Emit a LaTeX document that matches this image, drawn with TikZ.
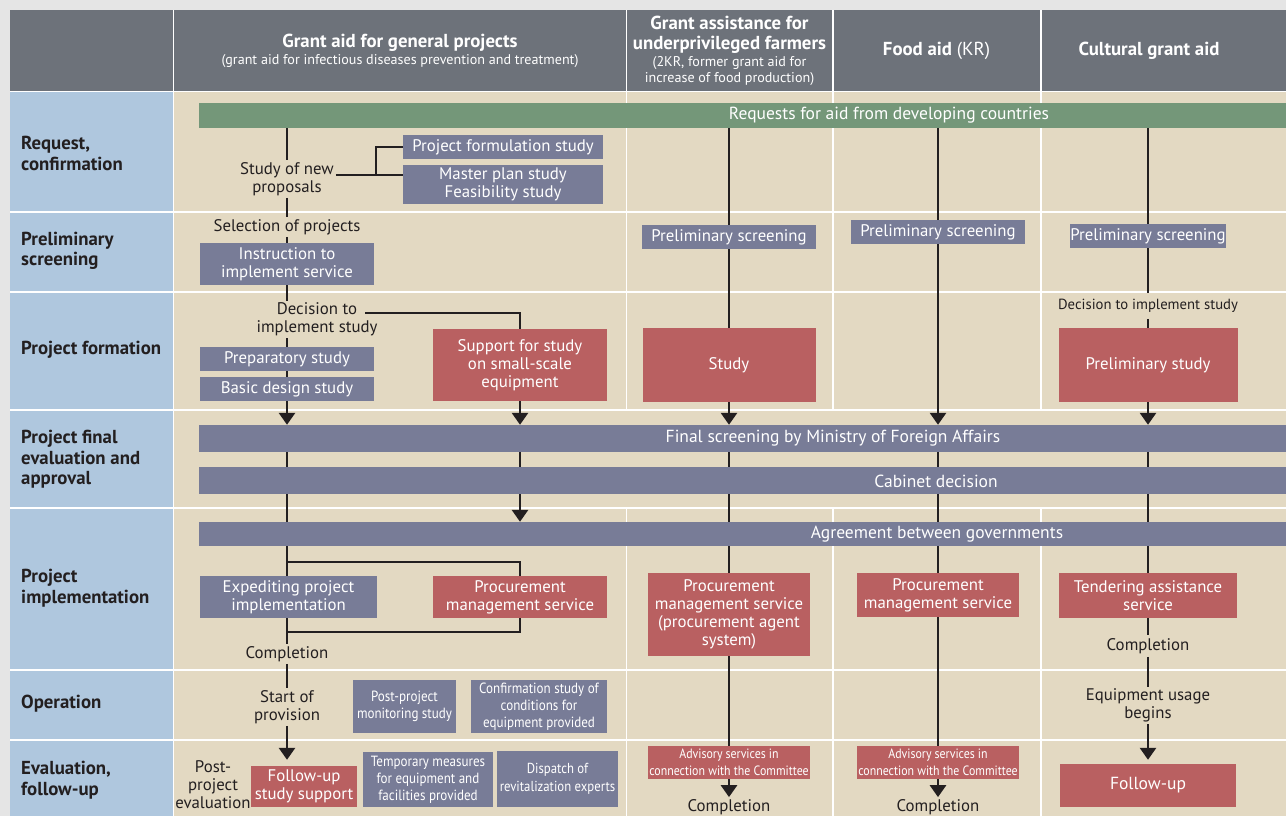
\documentclass[tikz,border=0pt]{standalone}
\usepackage{fontspec}
\setmainfont{PT Sans}
\newfontfamily\narrowfont[FakeStretch=0.88]{PT Sans}
\usepackage{tikz}
\usetikzlibrary{arrows.meta,positioning}
\definecolor{pagegray}{RGB}{229,229,229}
\definecolor{headgray}{RGB}{109,114,122}
\definecolor{stageblue}{RGB}{175,199,222}
\definecolor{cellbeige}{RGB}{227,217,194}
\definecolor{leafgreen}{RGB}{116,151,121}
\definecolor{slate}{RGB}{120,124,151}
\definecolor{brick}{RGB}{185,96,97}
\definecolor{ink}{RGB}{35,31,32}
\newcommand{\boxfont}{\fontsize{16.8}{18}\selectfont}
\newcommand{\smallfont}{\narrowfont\fontsize{14.8}{17}\selectfont}
\newcommand{\advfont}{\narrowfont\fontsize{13.5}{17}\selectfont}
\newcommand{\barfont}{\fontsize{17.5}{18}\selectfont}
\newcommand{\headfont}{\bfseries\fontsize{18.8}{20}\selectfont}
\newcommand{\subfont}{\fontsize{14.1}{16}\selectfont}
\newcommand{\stagefont}{\bfseries\fontsize{18.8}{20.5}\selectfont}
\pgfdeclarelayer{back}
\pgfdeclarelayer{mid}
\pgfsetlayers{back,mid,main}

\begin{document}
\begin{tikzpicture}[x=1pt,y=-1pt,
  slatebox/.style={fill=slate,text=white,inner sep=0pt,align=center,font=\boxfont},
  redbox/.style={fill=brick,text=white,inner sep=0pt,align=center,font=\boxfont},
  boxsize/.style 2 args={minimum width=#1,minimum height=#2},
  bar/.style={fill=#1,inner sep=0pt,minimum width=1087,minimum height=27},
  bartext/.style={text=white,font=\barfont,inner sep=0pt},
  note/.style={text=ink,font=\boxfont,align=center,inner sep=2pt},
  stage/.style={anchor=west,text=ink,font=\stagefont,align=left,inner sep=0pt},
  headtitle/.style={text=white,font=\headfont,align=center,inner sep=0pt},
  headsub/.style={text=white,font=\subfont,align=center,inner sep=0pt},
  flow/.style={draw=ink,line width=2.8pt},
  flowarrow/.style={flow,-{Triangle[width=16pt,length=12pt]}},
  gridrule/.style={draw=white,line width=1.5pt}]

  \useasboundingbox (0,0) rectangle (1286,816);

  % Table background
  \begin{pgfonlayer}{back}
    \fill[pagegray] (0,0) rectangle (1286,816);
    \fill[headgray] (10,10) rectangle (1286,91);
    \fill[stageblue] (10,92) rectangle (173,816);
    \fill[cellbeige] (174,92) rectangle (1286,816);
    \foreach \y in {91.5,212,292,410,508,670,740}
      \draw[gridrule] (10,\y) -- (1286,\y);
    \foreach \x in {626.5,833,1041}{
      \draw[gridrule] (\x,10) -- (\x,410);
      \draw[gridrule] (\x,508) -- (\x,816);}
    \draw[gridrule] (173.5,10) -- (173.5,816);
  \end{pgfonlayer}

  % Column heads
  \node[headtitle] (head1) at (400,43) {Grant aid for general projects};
  \node[headsub] (head1sub) at (400,61)
    {(grant aid for infectious diseases prevention and treatment)};
  \node[headtitle] (head2) at (729.5,35) {Grant assistance for\\underprivileged farmers};
  \node[headsub] (head2sub) at (729.5,71)
    {(2KR, former grant aid for\\increase of food production)};
  \node[headtitle] (head3) at (936.5,51) {Food aid {\mdseries (KR)}};
  \node[headtitle] (head4) at (1149,51) {Cultural grant aid};

  % Stage labels on left
  \node[stage] (stage1) at (21,153.5) {Request,\\confirmation};
  \node[stage] (stage2) at (21,251) {Preliminary\\screening};
  \node[stage] (stage3) at (21,350) {Project formation};
  \node[stage] (stage4) at (21,459.5) {Project final\\evaluation and\\approval};
  \node[stage] (stage5) at (21,588) {Project\\implementation};
  \node[stage] (stage6) at (21,704) {Operation};
  \node[stage] (stage7) at (21,780) {Evaluation,\\follow-up};

  % Bars across all schemes
  \node[bar=leafgreen,minimum height=25] (reqbar) at (742.5,115.5) {};
  \node[bartext] at (889,115.5) {Requests for aid from developing countries};
  \node[bar=slate] (finbar) at (742.5,438.5) {};
  \node[bartext] at (833,438.5) {Final screening by Ministry of Foreign Affairs};
  \node[bar=slate] (cabbar) at (742.5,480.5) {};
  \node[bartext] at (936,481) {Cabinet decision};
  \node[bar=slate,minimum height=24] (agrbar) at (742.5,534) {};
  \node[bartext] at (937,534) {Agreement between governments};

  % Grant aid for general projects
  \node[note] (newstudy) at (287,179) {Study of new\\proposals};
  \node[slatebox,boxsize={200}{24}] (formstudy) at (503,147) {Project formulation study};
  \node[slatebox,boxsize={200}{39}] (planstudy) at (503,184.5)
    {Master plan study\\Feasibility study};
  \coordinate (fork) at (376,175);
  \node[note] (select) at (287,227) {Selection of projects};
  \node[slatebox,boxsize={174}{42}] (instruct) at (287,264) {Instruction to\\implement service};
  \node[note] (decide) at (317,319.5) {Decision to\\implement study};
  \coordinate (decideR) at (365,313);
  \node[slatebox,boxsize={174}{24}] (prepstudy) at (287,359) {Preparatory study};
  \node[slatebox,boxsize={174}{24}] (basicstudy) at (287,389) {Basic design study};
  \node[redbox,boxsize={174}{72}] (support) at (520,365)
    {Support for study\\on small-scale\\equipment};
  \coordinate (split) at (287,562);
  \coordinate (merge) at (287,632);
  \node[slatebox,boxsize={177}{42}] (expedite) at (288.5,597)
    {Expediting project\\implementation};
  \node[redbox,boxsize={174}{42}] (procure1) at (520,597)
    {Procurement\\management service};
  \node[note] (done1) at (287,654) {Completion};
  \node[note] (provision) at (287,707) {Start of\\provision};
  \node[slatebox,font=\smallfont,boxsize={103}{53}] (monitor) at (404.5,706.5)
    {Post-project\\monitoring study};
  \node[slatebox,font=\smallfont,boxsize={136}{53}] (confirm) at (539,706.5)
    {Confirmation study of\\conditions for\\equipment provided};
  \node[note,inner sep=0pt] (posteval) at (213,785) {Post-\\project\\evaluation};
  \node[redbox,boxsize={106}{41}] (followstudy) at (304,786.5)
    {Follow-up\\study support};
  \node[slatebox,font=\smallfont,boxsize={130}{55}] (tempfix) at (428,779.5)
    {Temporary measures\\for equipment and\\facilities provided};
  \node[slatebox,font=\narrowfont\fontsize{14.5}{17.5}\selectfont,boxsize={121}{56}] (dispatch)
    at (557.5,779) {Dispatch of\\revitalization experts};

  % Grant assistance for underprivileged farmers
  \node[slatebox,boxsize={174}{24}] (screen2) at (729,237) {Preliminary screening};
  \node[redbox,boxsize={173}{74}] (study2) at (729,365) {Study};
  \node[redbox,boxsize={162}{83}] (procure2) at (729,614.5)
    {Procurement\\management service\\(procurement agent\\system)};
  \node[redbox,font=\advfont,boxsize={162}{33}] (advise2) at (729,762.5)
    {Advisory services in\\connection with the Committee};
  \node[note] (done2) at (729,807) {Completion};

  % Food aid
  \node[slatebox,boxsize={174}{24}] (screen3) at (938,232) {Preliminary screening};
  \node[redbox,boxsize={162}{44}] (procure3) at (938,595)
    {Procurement\\management service};
  \node[redbox,font=\advfont,boxsize={162}{33}] (advise3) at (938,762.5)
    {Advisory services in\\connection with the Committee};
  \node[note] (done3) at (938,807) {Completion};

  % Cultural grant aid
  \node[slatebox,boxsize={156}{24}] (screen4) at (1148,236) {Preliminary screening};
  \node[note,font=\fontsize{14.7}{18}\selectfont,inner sep=6pt] (decide4) at (1148,306)
    {Decision to implement study};
  \node[redbox,boxsize={179}{74}] (prelim4) at (1148,365) {Preliminary study};
  \node[redbox,boxsize={178}{45}] (tender4) at (1148,595.5)
    {Tendering assistance\\service};
  \node[note,inner sep=3pt] (done4) at (1148,646) {Completion};
  \node[note] (usage4) at (1148,705.5) {Equipment usage\\begins};
  \node[redbox,font=\fontsize{17.5}{20}\selectfont,boxsize={176}{43}] (follow4) at (1148,785.5)
    {Follow-up};

  % Flow lines, drawn under the boxes
  \begin{pgfonlayer}{mid}
    \draw[flow] (newstudy |- reqbar.south) -- (newstudy);
    \draw[flow] (newstudy.east |- fork) -- (fork) -- (fork -| planstudy.west);
    \draw[flow] (fork) |- (formstudy.west);
    \draw[flow] (newstudy) -- (select);
    \draw[flow] (select) -- (instruct);
    \draw[flow] (instruct.south) -- (instruct.south |- decide.north);
    \draw[flowarrow] (instruct.south |- decide.south) -- (instruct.south |- finbar.north);
    \draw[flow] (decideR) -| (support.north);
    \draw[flowarrow] (support.south) -- (support.south |- finbar.north);
    \draw[flowarrow] (support.south |- finbar.south) -- (support.south |- agrbar.north);
    \draw[flow] (instruct.south |- finbar.south) -- (done1);
    \draw[flow] (split) -| (procure1.north);
    \draw[flow] (procure1.south) |- (merge);
    \draw[flow] (done1) -- (provision);
    \draw[flowarrow] (provision) -- ([yshift=6pt]provision |- followstudy.north);

    \draw[flowarrow] (screen2 |- reqbar.south) -- (screen2 |- finbar.north);
    \draw[flow] (screen2 |- finbar.south) -- (advise2.north);
    \draw[flowarrow] (advise2) -- (done2);

    \draw[flowarrow] (screen3 |- reqbar.south) -- (screen3 |- finbar.north);
    \draw[flow] (screen3 |- finbar.south) -- (advise3.north);
    \draw[flowarrow] (advise3) -- (done3);

    \draw[flow] (screen4 |- reqbar.south) -- (screen4.north);
    \draw[flow] (screen4) -- (decide4);
    \draw[flowarrow] (decide4) -- (decide4 |- finbar.north);
    \draw[flow] (decide4 |- finbar.south) -- (done4);
    \draw[flow] (done4) -- (usage4);
    \draw[flowarrow] (usage4) -- ([yshift=4pt]usage4 |- follow4.north);
  \end{pgfonlayer}

\end{tikzpicture}
\end{document}
